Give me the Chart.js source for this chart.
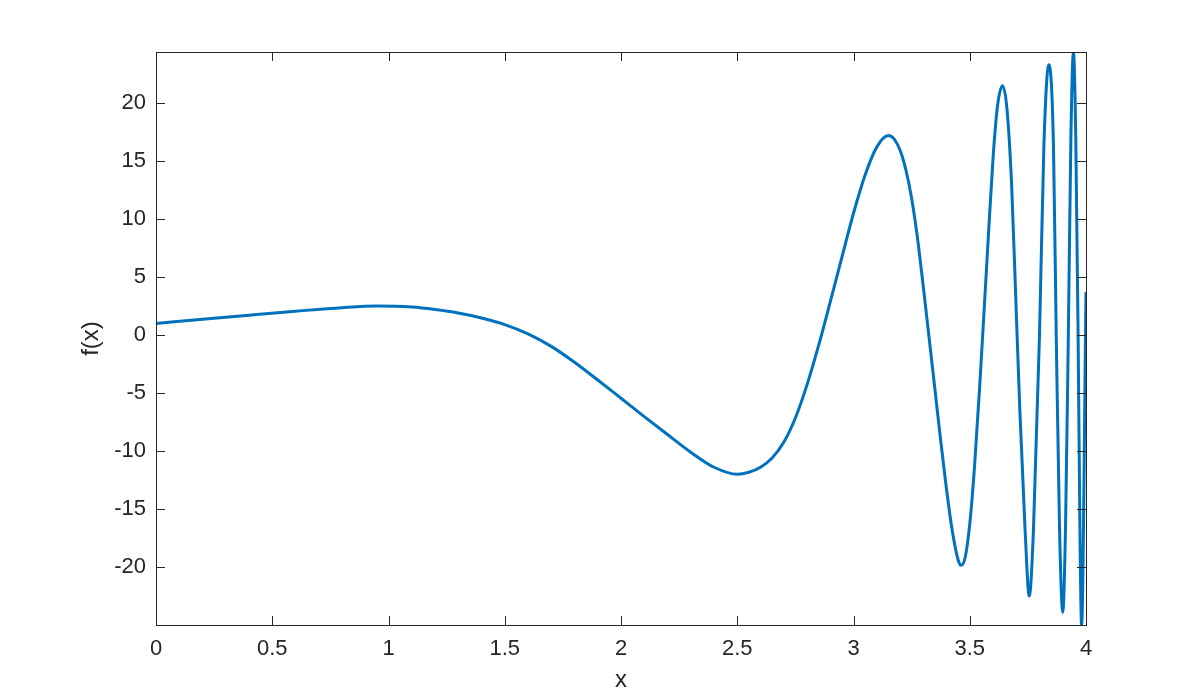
<!DOCTYPE html>
<html>
<head>
<meta charset="utf-8">
<title>f(x)</title>
<script src="https://cdn.jsdelivr.net/npm/chart.js@4/dist/chart.umd.min.js"></script>
<style>
  body { margin: 0; background: #fff; }
  #wrap { width: 1200px; height: 700px; }
</style>
</head>
<body>
<div id="wrap"><canvas id="fxChart" width="1200" height="700"></canvas></div>
<script>
// values
const xValues = [
  0.000, 0.200, 0.400, 0.600, 0.800, 0.950, 1.100, 1.200, 1.300, 1.400,
  1.500, 1.600, 1.700, 1.800, 1.900, 2.000, 2.100, 2.200, 2.300, 2.400,
  2.500, 2.550, 2.600, 2.650, 2.700, 2.750, 2.800, 2.850, 2.900, 2.950,
  3.000, 3.050, 3.100, 3.150, 3.175, 3.200, 3.225, 3.250, 3.275, 3.300,
  3.325, 3.350, 3.375, 3.400, 3.425, 3.450, 3.462, 3.480, 3.500, 3.520,
  3.544, 3.558, 3.580, 3.601, 3.620, 3.641, 3.660, 3.680, 3.700, 3.716,
  3.738, 3.756, 3.774, 3.800, 3.819, 3.840, 3.860, 3.872, 3.886, 3.900,
  3.912, 3.924, 3.935, 3.946, 3.956, 3.966, 3.974, 3.981, 4.000
];
const yValues = [
  1.00, 1.36, 1.71, 2.05, 2.36, 2.50, 2.41, 2.20, 1.90, 1.47,
  0.90, 0.10, -0.98, -2.35, -3.88, -5.45, -7.03, -8.58, -10.10, -11.40,
  -12.00, -11.83, -11.40, -10.60, -9.25, -7.15, -4.30, -0.90, 2.85, 6.70,
  10.50, 13.80, 16.20, 17.20, 16.89, 15.95, 14.26, 11.80, 8.40, 4.20,
  -0.20, -4.65, -9.10, -13.30, -16.90, -19.40, -19.85, -19.20, -16.30, -11.50,
  -4.00, 0.80, 8.50, 15.50, 19.85, 21.50, 19.50, 13.00, 2.00, -6.75,
  -16.80, -22.50, -16.80, 0.00, 16.40, 23.30, 16.40, 0.00, -16.50, -23.90,
  -16.50, 0.00, 17.00, 24.40, 17.00, 0.00, -17.00, -25.00, 3.70
];
const xTicks = [0, 0.5, 1, 1.5, 2, 2.5, 3, 3.5, 4];
const yTicks = [-20, -15, -10, -5, 0, 5, 10, 15, 20];
const xLimits = [0, 4];
const yLimits = [-25, 24.4];

const axisColor = "#262626";
const lineColor = "#0072BD";
const fontFamily = "'Liberation Sans', Arial, Helvetica, sans-serif";

const points = xValues.map((x, i) => ({ x: x, y: yValues[i] }));

// matlab style box with ticks pointing inwards on all four sides
const boxPlugin = {
  id: "boxPlugin",
  afterDraw(chart) {
    const ctx = chart.ctx;
    const area = chart.chartArea;
    const xs = chart.scales.x;
    const ys = chart.scales.y;
    const len = 9;
    ctx.save();
    ctx.strokeStyle = axisColor;
    ctx.lineWidth = 1;
    ctx.strokeRect(area.left + 0.5, area.top + 0.5, area.right - area.left, area.bottom - area.top);
    ctx.beginPath();
    xTicks.forEach((v) => {
      const px = Math.round(xs.getPixelForValue(v)) + 0.5;
      ctx.moveTo(px, area.bottom);
      ctx.lineTo(px, area.bottom - len);
      ctx.moveTo(px, area.top);
      ctx.lineTo(px, area.top + len);
    });
    yTicks.forEach((v) => {
      const py = Math.round(ys.getPixelForValue(v)) + 0.5;
      ctx.moveTo(area.left, py);
      ctx.lineTo(area.left + len, py);
      ctx.moveTo(area.right, py);
      ctx.lineTo(area.right - len, py);
    });
    ctx.stroke();
    ctx.restore();
  },
};

new Chart(document.getElementById("fxChart"), {
  type: "line",
  data: {
    datasets: [
      {
        label: "f(x)",
        data: points,
        borderColor: lineColor,
        borderWidth: 3,
        pointRadius: 0,
        fill: false,
        cubicInterpolationMode: "monotone",
      },
    ],
  },
  options: {
    responsive: false,
    animation: false,
    layout: { padding: { left: 0, top: 52, right: 114, bottom: 0 } },
    plugins: {
      legend: { display: false },
      tooltip: { enabled: false },
    },
    scales: {
      x: {
        type: "linear",
        min: xLimits[0],
        max: xLimits[1],
        afterBuildTicks: (scale) => {
          scale.ticks = xTicks.map((v) => ({ value: v }));
        },
        afterFit: (scale) => {
          scale.height = 75;
        },
        grid: { display: false, drawTicks: false },
        border: { display: false },
        ticks: {
          color: axisColor,
          padding: 11,
          maxRotation: 0,
          font: { family: fontFamily, size: 22 },
          callback: (v) => String(v),
        },
        title: {
          display: true,
          text: "x",
          color: axisColor,
          padding: { top: 0, bottom: 5 },
          font: { family: fontFamily, size: 24 },
        },
      },
      y: {
        type: "linear",
        min: yLimits[0],
        max: yLimits[1],
        afterBuildTicks: (scale) => {
          scale.ticks = yTicks.map((v) => ({ value: v }));
        },
        afterFit: (scale) => {
          scale.width = 156;
        },
        grid: { display: false, drawTicks: false },
        border: { display: false },
        ticks: {
          color: axisColor,
          padding: 10,
          font: { family: fontFamily, size: 22 },
          callback: (v) => String(v),
        },
        title: {
          display: true,
          text: "f(x)",
          color: axisColor,
          padding: { top: 77, bottom: 0 },
          font: { family: fontFamily, size: 24 },
        },
      },
    },
  },
  plugins: [boxPlugin],
});
</script>
</body>
</html>
